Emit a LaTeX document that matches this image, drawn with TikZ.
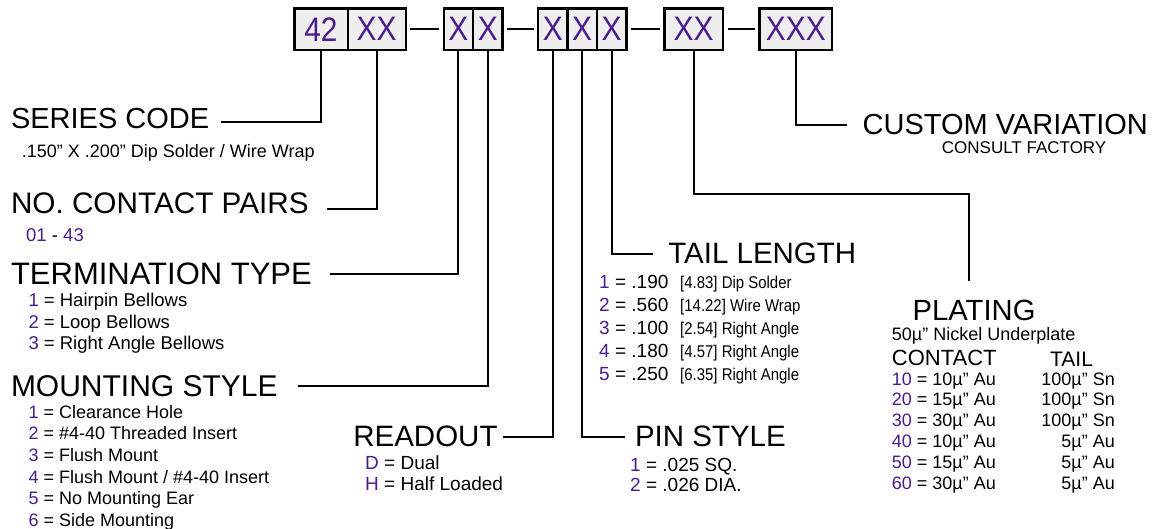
\documentclass[tikz,border=0pt]{standalone}
\usepackage{fontspec}
\setmainfont{Liberation Sans}
\newfontfamily\boxfont[FakeStretch=0.88]{Liberation Sans}
\newfontfamily\narrowfont[FakeStretch=0.88]{Liberation Sans}
\usetikzlibrary{positioning}

\definecolor{codepurple}{RGB}{75,28,140}
\definecolor{boxgray}{RGB}{238,238,238}
\newcommand{\pnum}[1]{\textcolor{codepurple}{#1}}

\tikzset{
  codebox/.style={draw, fill=boxgray, line width=2.4pt, outer sep=0pt, inner sep=0pt,
    minimum height=41.7pt, minimum width=#1, text=codepurple,
    font=\boxfont\fontsize{34}{34}\selectfont},
  headtext/.style={inner sep=0pt, outer sep=0pt, anchor=base west,
    font=\fontsize{#1}{#1}\selectfont},
  headtext/.default=29.5,
  listitem/.style={inner sep=0pt, anchor=base west, font=\fontsize{18.5}{20}\selectfont},
  leadline/.style={line width=2pt, shorten >=#1},
  leadline/.default=15pt,
  dashline/.style={line width=2pt, shorten <=4.5pt, shorten >=4.5pt},
}

\begin{document}
\begin{tikzpicture}[x=1pt, y=-1pt]
  \useasboundingbox (0,0) rectangle (1159,529);

  % part number boxes
  \node[codebox=53.4pt] (b42) at (321,29.2) {42};
  \node[codebox=58pt, right=0pt of b42] (bXX) {XX};
  \node[codebox=29.4pt, right=38pt of bXX] (bT) {X};
  \node[codebox=29.4pt, right=0pt of bT] (bM) {X};
  \node[codebox=29.4pt, right=35.6pt of bM] (bR) {X};
  \node[codebox=29.4pt, right=0pt of bR] (bP) {X};
  \node[codebox=29.4pt, right=0pt of bP] (bL) {X};
  \node[codebox=58.7pt, right=38pt of bL] (bPl) {XX};
  \node[codebox=72.4pt, right=36.6pt of bPl] (bC) {XXX};

  \draw[dashline] (bXX.east) -- (bT.west);
  \draw[dashline] (bM.east) -- (bR.west);
  \draw[dashline] (bL.east) -- (bPl.west);
  \draw[dashline] (bPl.east) -- (bC.west);

  % series code
  \node[headtext=29] (series) at (11,128.3) {SERIES CODE};
  \node[listitem, font=\fontsize{18}{20}\selectfont] (seriesnote) at (21.7,158)
    {.150” X .200” Dip Solder / Wire Wrap};

  % contact pairs
  \node[headtext=29.7] (pairs) at (11,214) {NO. CONTACT PAIRS};
  \node[listitem] (pairsnote) at (26,241.7) {\pnum{01} - \pnum{43}};

  % termination type
  \node[headtext=31] (term) at (11,285) {TERMINATION TYPE};
  \foreach \pn/\txt [count=\row] in {1/Hairpin Bellows, 2/Loop Bellows, 3/Right Angle Bellows}
    \node[listitem] (term-\row) at (28.3,{285.3+21.4*\row}) {\pnum{\pn} = \txt};

  % mounting style
  \node[headtext=30] (mount) at (11,396.7) {MOUNTING STYLE};
  \foreach \pn/\txt [count=\row] in {1/Clearance Hole, 2/\#4-40 Threaded Insert,
      3/Flush Mount, 4/{Flush Mount / \#4-40 Insert}, 5/No Mounting Ear, 6/Side Mounting}
    \node[listitem, font=\fontsize{18}{20}\selectfont] (mount-\row) at (28.3,{396.7+21.6*\row}) {\pnum{\pn} = \txt};

  % readout
  \node[headtext] (readout) at (353.3,446.7) {READOUT};
  \foreach \pn/\txt [count=\row] in {D/Dual, H/Half Loaded}
    \node[listitem, font=\fontsize{19}{20}\selectfont] (readout-\row) at (365,{448+21*\row}) {\pnum{\pn} = \txt};

  % pin style
  \node[headtext] (pin) at (635,446.7) {PIN STYLE};
  \foreach \pn/\txt [count=\row] in {1/.025 SQ., 2/.026 DIA.}
    \node[listitem, font=\fontsize{19}{20}\selectfont] (pin-\row) at (630,{450.3+20.7*\row}) {\pnum{\pn} = \txt};

  % tail length
  \node[headtext] (tail) at (668.3,264) {TAIL LENGTH};
  \foreach \pn/\len/\mm/\txt [count=\row] in {1/.190/4.83/Dip Solder, 2/.560/14.22/Wire Wrap,
      3/.100/2.54/Right Angle, 4/.180/4.57/Right Angle, 5/.250/6.35/Right Angle}
  {
    \node[listitem, font=\fontsize{19}{20}\selectfont] (tail-\row) at (599,{265.3+23*\row}) {\pnum{\pn} = \len};
    \node[listitem, font=\narrowfont\fontsize{17}{20}\selectfont] (tailmm-\row) at (680,{265.3+23*\row}) {[\mm] \txt};
  }

  % custom variation
  \node[headtext=29] (custom) at (862.7,135) {CUSTOM VARIATION};
  \node[listitem, font=\fontsize{17}{20}\selectfont] (consult) at (941.7,154) {CONSULT FACTORY};

  % plating
  \node[headtext=29.2] (plating) at (912.7,320) {PLATING};
  \node[listitem, font=\fontsize{18}{20}\selectfont] (nickel) at (891.7,340) {50µ” Nickel Underplate};
  \node[listitem, font=\fontsize{22}{22}\selectfont] (platcontact) at (891.7,365) {CONTACT};
  \node[listitem, font=\fontsize{21}{22}\selectfont] (plattail) at (1050,366.7) {TAIL};
  \foreach \code/\gold/\tin [count=\row] in {10/10/100µ” Sn, 20/15/100µ” Sn, 30/30/100µ” Sn,
      40/10/5µ” Au, 50/15/5µ” Au, 60/30/5µ” Au}
  {
    \node[listitem, font=\fontsize{18}{20}\selectfont] (platc-\row) at (891.7,{364.2+20.8*\row}) {\pnum{\code} = \gold µ” Au};
    \node[listitem, font=\fontsize{18}{20}\selectfont, anchor=base east] (platt-\row) at (1115,{364.2+20.8*\row}) {\tin};
  }

  % leads
  \draw[leadline=12pt] (b42.south) |- ([yshift=-4pt]series.east);
  \draw[leadline=18pt] (bXX.south) |- ([yshift=-5pt]pairs.east);
  \draw[leadline=18pt] (bT.south) |- (term.east);
  \draw[leadline=20pt] (bM.south) |- (mount.east);
  \draw[leadline=5pt] (bR.south) |- (readout.east);
  \draw[leadline=10pt] (bP.south) |- (pin.west);
  \draw[leadline=15pt] (bL.south) |- (tail.west);
  \draw[leadline=19pt] (bPl.south) -- ++(0,144.3) -| ([xshift=-5pt]plating.north);
  \draw[leadline=16pt] (bC.south) |- (custom.west);
\end{tikzpicture}
\end{document}
